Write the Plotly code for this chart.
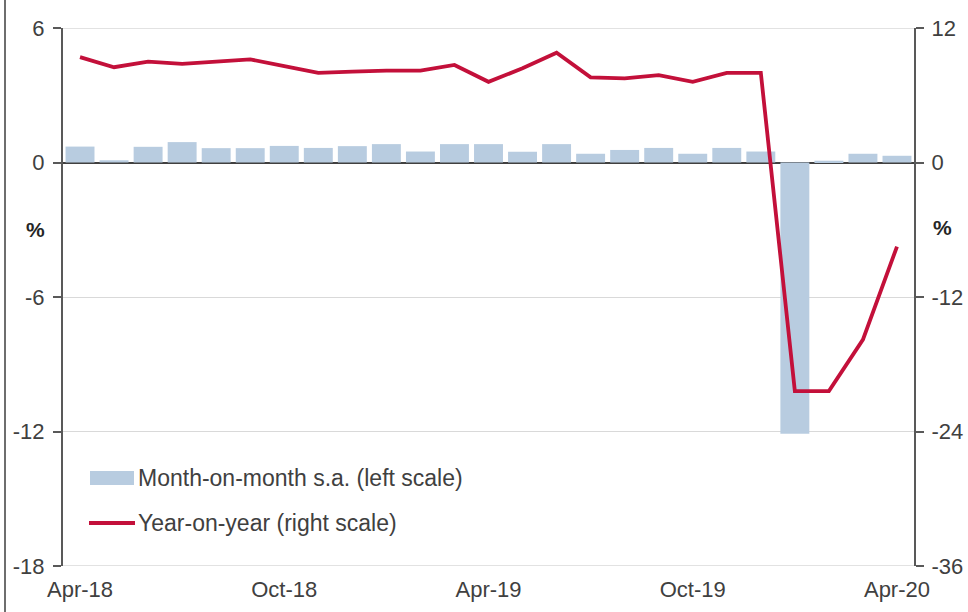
import plotly.graph_objects as go

# Monthly periods, Apr-18 .. Apr-20
months = ["Apr-18", "May-18", "Jun-18", "Jul-18", "Aug-18", "Sep-18", "Oct-18",
          "Nov-18", "Dec-18", "Jan-19", "Feb-19", "Mar-19", "Apr-19", "May-19",
          "Jun-19", "Jul-19", "Aug-19", "Sep-19", "Oct-19", "Nov-19", "Dec-19",
          "Jan-20", "Feb-20", "Mar-20", "Apr-20"]

# Month-on-month, seasonally adjusted (%), left scale
mom_sa = [0.71, 0.10, 0.70, 0.91, 0.64, 0.64, 0.74, 0.65, 0.73, 0.82, 0.49, 0.82,
          0.82, 0.48, 0.82, 0.39, 0.56, 0.65, 0.39, 0.65, 0.49, -12.1, 0.08, 0.39,
          0.30]

# Year-on-year (%), right scale
yoy = [9.4, 8.5, 9.0, 8.8, 9.0, 9.2, 8.6, 8.0, 8.1, 8.2, 8.2, 8.7, 7.2, 8.4,
       9.8, 7.6, 7.5, 7.8, 7.2, 8.0, 8.0, -20.4, -20.4, -15.8, -7.5]

tick_months = ["Apr-18", "Oct-18", "Apr-19", "Oct-19", "Apr-20"]
left_ticks = [6, 0, -6, -12, -18]
right_ticks = [12, 0, -12, -24, -36]

BAR_COLOR = "#b8cce0"
LINE_COLOR = "#c3103a"
TEXT_COLOR = "#404040"
AXIS_COLOR = "#595959"
GRID_COLOR = "#d9d9d9"
FONT = "Liberation Sans, Arial, sans-serif"
FS = 22

fig = go.Figure()
fig.add_trace(go.Bar(x=months, y=mom_sa, marker_color=BAR_COLOR,
                     marker_line_width=0, name="Month-on-month s.a. (left scale)",
                     yaxis="y"))
fig.add_trace(go.Scatter(x=months, y=yoy, mode="lines",
                         line=dict(color=LINE_COLOR, width=3.8),
                         name="Year-on-year (right scale)", yaxis="y2"))

fig.update_layout(
    width=968, height=612,
    margin=dict(l=63, r=54, t=28, b=46),
    paper_bgcolor="white", plot_bgcolor="white",
    font=dict(family=FONT, size=FS, color=TEXT_COLOR),
    showlegend=False,
    bargap=0.15,
    xaxis=dict(type="category", categoryorder="array", categoryarray=months,
               tickmode="array", tickvals=tick_months, ticktext=tick_months,
               showgrid=False, showline=False, ticks="", ticklen=0,
               ticklabelstandoff=8, automargin=False,
               tickfont=dict(size=FS, color=TEXT_COLOR)),
    yaxis=dict(range=[-18, 6], tickmode="array", tickvals=left_ticks,
               ticktext=[str(v) for v in left_ticks],
               showgrid=True, gridcolor=GRID_COLOR, gridwidth=1,
               zeroline=True, zerolinecolor="#404040", zerolinewidth=2,
               showline=True, linecolor=AXIS_COLOR, linewidth=2,
               ticks="outside", ticklen=8, tickcolor=AXIS_COLOR, tickwidth=1.5,
               ticklabelstandoff=4, automargin=False,
               tickfont=dict(size=FS, color=TEXT_COLOR)),
    yaxis2=dict(range=[-36, 12], overlaying="y", side="right",
                tickmode="array", tickvals=right_ticks,
                ticktext=[str(v) for v in right_ticks],
                showgrid=False, zeroline=False,
                showline=True, linecolor=AXIS_COLOR, linewidth=2,
                ticks="outside", ticklen=8, tickcolor=AXIS_COLOR, tickwidth=1.5,
                ticklabelstandoff=3, automargin=False,
                tickfont=dict(size=FS, color=TEXT_COLOR)),
)

# Gridlines along the top and bottom edges of the plot area
for yv in (6, -18):
    fig.add_shape(type="line", xref="paper", yref="y", x0=0, x1=1, y0=yv, y1=yv,
                  line=dict(color=GRID_COLOR, width=1.5), layer="below")

# Unit labels beside each axis
fig.add_annotation(x=-0.032, y=0.625, xref="paper", yref="paper", text="<b>%</b>",
                   xanchor="center", yanchor="middle",
                   showarrow=False, font=dict(size=21, color="#262626"))
fig.add_annotation(x=1.033, y=0.629, xref="paper", yref="paper", text="<b>%</b>",
                   xanchor="center", yanchor="middle",
                   showarrow=False, font=dict(size=21, color="#262626"))

# Legend drawn as swatches + text inside the plot area
plot_w, plot_h = 851.0, 538.0
def px_x(px):
    return (px - 63) / plot_w
def px_y(py):
    return (566 - py) / plot_h

fig.add_shape(type="rect", xref="paper", yref="paper",
              x0=px_x(90), x1=px_x(134), y0=px_y(485), y1=px_y(471),
              fillcolor=BAR_COLOR, line_width=0)
fig.add_shape(type="line", xref="paper", yref="paper",
              x0=px_x(89), x1=px_x(135), y0=px_y(523), y1=px_y(523),
              line=dict(color=LINE_COLOR, width=3.8))
fig.add_annotation(x=px_x(136), y=px_y(478), xref="paper", yref="paper",
                   text="Month-on-month s.a. (left scale)", showarrow=False,
                   xanchor="left", yanchor="middle",
                   font=dict(size=23, color=TEXT_COLOR))
fig.add_annotation(x=px_x(136), y=px_y(523), xref="paper", yref="paper",
                   text="Year-on-year (right scale)", showarrow=False,
                   xanchor="left", yanchor="middle",
                   font=dict(size=23, color=TEXT_COLOR))

# Frame line along the left edge of the page
fig.add_shape(type="line", xref="paper", yref="paper",
              x0=px_x(5), x1=px_x(5), y0=px_y(612), y1=px_y(0),
              line=dict(color="#6e6e6e", width=2))

fig.write_html("out.html")
